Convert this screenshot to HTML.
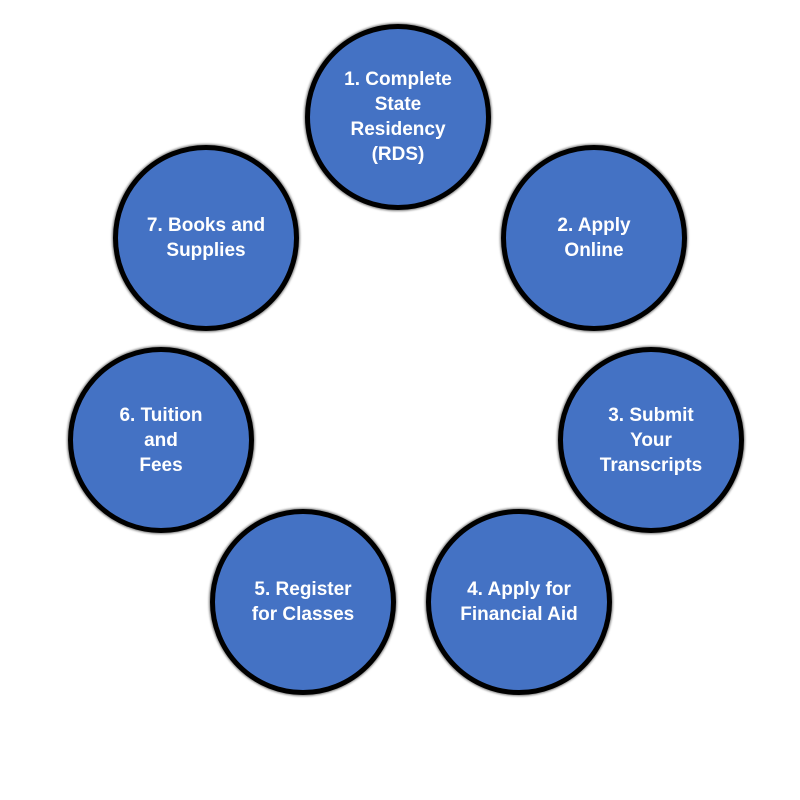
<!DOCTYPE html>
<html><head><style>
body{margin:0;width:800px;height:800px;background:#fff;position:relative;overflow:hidden;font-family:"Liberation Sans",sans-serif}
.c{position:absolute;width:176px;height:176px;border-radius:50%;background:#4472c4;border:5px solid #000;box-shadow:0 0 2px 1px rgba(0,0,0,.5);display:flex;align-items:center;justify-content:center;text-align:center;color:#fff;font-weight:bold;font-size:19px;line-height:25px}
</style></head><body>
<div class="c" style="left:305px;top:24px">1. Complete<br>State<br>Residency<br>(RDS)</div>
<div class="c" style="left:501px;top:145px">2. Apply<br>Online</div>
<div class="c" style="left:558px;top:347px">3. Submit<br>Your<br>Transcripts</div>
<div class="c" style="left:426px;top:509px">4. Apply for<br>Financial Aid</div>
<div class="c" style="left:210px;top:509px">5. Register<br>for Classes</div>
<div class="c" style="left:68px;top:347px">6. Tuition<br>and<br>Fees</div>
<div class="c" style="left:113px;top:145px">7. Books and<br>Supplies</div>
</body></html>
